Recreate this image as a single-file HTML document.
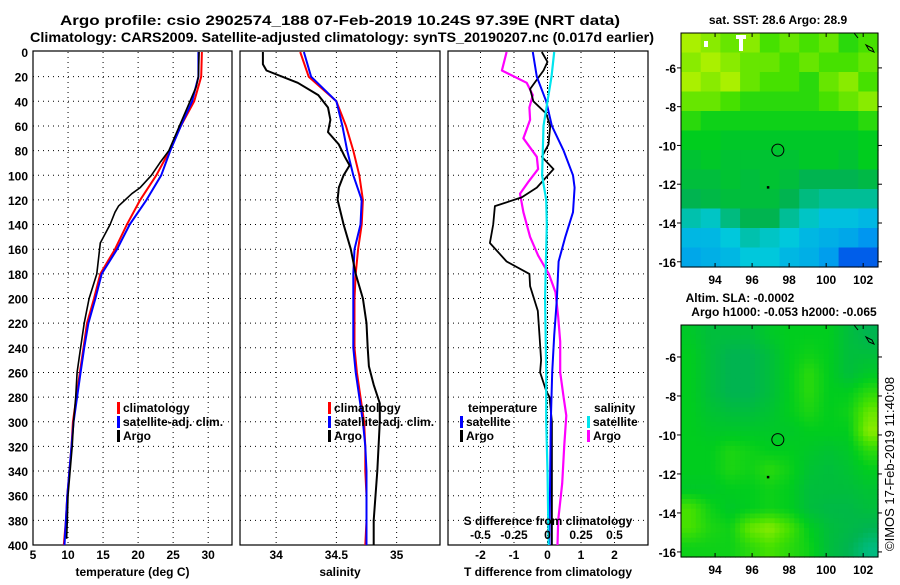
<!DOCTYPE html>
<html><head><meta charset="utf-8">
<style>
html,body{margin:0;padding:0;background:#fff;}
svg text{font-family:"Liberation Sans",sans-serif;font-weight:bold;fill:#000;}
</style></head>
<body>
<svg id="chart" xmlns="http://www.w3.org/2000/svg" width="900" height="580" viewBox="0 0 900 580">
<text x="340" y="25" font-size="14" text-anchor="middle" textLength="560" lengthAdjust="spacingAndGlyphs">Argo profile: csio 2902574_188 07-Feb-2019 10.24S 97.39E (NRT data)</text>
<text x="342" y="42" font-size="14" text-anchor="middle" textLength="624" lengthAdjust="spacingAndGlyphs">Climatology: CARS2009. Satellite-adjusted climatology: synTS_20190207.nc (0.017d earlier)</text>
<g id="g"></g>
</svg>
<script>
// ---- depth axis data ----
const depthTicks = [0,20,40,60,80,100,120,140,160,180,200,220,240,260,280,300,320,340,360,380,400];
// ---- temperature panel ----
const tempTicks = [5,10,15,20,25,30];
const tClimDepth = [0,20,40,60,80,100,120,140,160,180,200,220,240,260,280,300,320,340,360,380,400];
const tClim = [29.1,29.0,28.0,26.1,24.5,22.6,20.3,18.4,16.7,14.6,13.7,12.7,12.2,11.7,11.2,10.7,10.5,10.2,9.9,9.7,9.4];
const tSat = [28.6,28.6,27.7,26.1,24.6,23.3,21.2,18.8,17.0,14.8,13.9,12.9,12.3,11.8,11.3,10.8,10.5,10.2,9.9,9.7,9.5];
const tArgoDepth = [0,20,28,40,60,80,90,100,110,115,125,130,140,155,180,200,220,240,260,280,300,320,340,360,380,395];
const tArgo = [28.7,28.6,28.3,27.4,25.9,24.4,23.1,21.9,20.3,19.1,17.2,16.7,16.0,14.6,14.1,13.0,12.3,11.8,11.3,11.1,10.8,10.6,10.3,10.0,9.9,9.8];
// ---- salinity panel ----
const salTicks = [34,34.5,35];
const sClim = [34.20,34.27,34.50,34.58,34.64,34.69,34.72,34.71,34.68,34.66,34.65,34.65,34.65,34.67,34.70,34.73,34.74,34.74,34.75,34.75,34.74];
const sSat = [34.23,34.29,34.50,34.55,34.59,34.64,34.71,34.70,34.65,34.64,34.64,34.64,34.64,34.66,34.69,34.72,34.74,34.75,34.75,34.75,34.75];
const sArgoDepth = [0,10,15,25,35,45,55,65,75,85,92,100,110,120,140,160,180,200,220,240,255,270,285,300,340,380,400];
const sArgo = [33.89,33.89,33.92,34.18,34.35,34.43,34.45,34.43,34.52,34.57,34.61,34.56,34.52,34.51,34.56,34.62,34.66,34.72,34.75,34.76,34.77,34.81,34.86,34.86,34.84,34.81,34.81];
// ---- difference panel ----
const dtTicks = [-2,-1,0,1,2];
const dsTicks = [-0.5,-0.25,0,0.25,0.5];
const dsTickLabels = ["-0.5","-0.25","0","0.25","0.5"];
const dtSatDepth = [0,20,40,60,80,100,110,130,150,170,200,230,260,300,340,400];
const dtSat = [-0.44,-0.32,-0.04,0.13,0.48,0.76,0.81,0.76,0.53,0.33,0.28,0.2,0.14,0.1,0.08,0.06];
const dtArgoDepth = [0,8,15,30,40,50,60,75,85,95,110,118,125,140,155,170,180,190,210,230,250,260,275,280,300,400];
const dtArgo = [-0.17,0,-0.12,-0.52,-0.42,-0.04,0.08,0.03,-0.17,0.18,-0.32,-0.77,-1.57,-1.62,-1.72,-1.22,-0.54,-0.52,-0.29,-0.24,-0.19,-0.22,-0.04,0.06,0.13,0.13];
const dsArgoDepth = [0,15,25,35,45,55,70,85,95,105,115,130,150,165,180,195,215,235,260,280,295,320,350,380,400];
const dsArgo = [-0.305,-0.34,-0.155,-0.11,-0.135,-0.13,-0.18,-0.08,-0.07,-0.14,-0.205,-0.18,-0.13,-0.07,0.01,0.06,0.08,0.095,0.095,0.12,0.14,0.125,0.11,0.08,0.075];
const dsSatDepth = [0,20,40,60,80,100,120,140,160,200,260,300,340,400];
const dsSat = [0.05,0.03,0,-0.03,-0.035,-0.04,-0.01,-0.005,-0.01,-0.018,-0.01,-0.01,0,0.008];
// ---- maps ----
const lonTicks = [94,96,98,100,102];
const latTicks = [-6,-8,-10,-12,-14,-16];
const sstGrid = [
[66,64,62,64,60,62,60,62,58,60],
[64,66,64,62,62,60,62,60,60,62],
[66,64,66,62,60,60,58,62,64,60],
[62,62,60,58,58,58,58,60,62,64],
[58,56,56,56,56,56,56,56,56,58],
[55,55,54,54,54,54,54,54,54,55],
[53,54,53,53,53,53,54,54,53,55],
[52,52,53,52,53,52,50,50,50,51],
[50,51,52,52,52,50,48,47,47,47],
[46,45,48,50,50,47,45,43,43,42],
[42,42,44,46,45,44,42,41,40,38],
[40,41,42,44,44,42,41,39,33,33]];
const slaGrid = [
[54,52,52,52,54,55,55,55,52,50],
[55,52,50,50,52,55,56,55,52,52],
[55,52,50,50,52,55,58,55,52,54],
[55,52,50,50,52,55,58,55,55,58],
[55,53,52,52,53,55,57,55,56,62],
[55,54,54,54,54,54,55,55,55,64],
[55,55,57,56,55,55,54,53,54,58],
[55,55,57,56,58,56,53,52,53,55],
[54,54,55,55,56,55,52,52,52,53],
[60,56,54,55,56,55,52,51,51,52],
[60,57,56,62,64,60,55,52,51,50],
[56,56,56,58,60,58,56,52,50,48]];
const floatPos = [97.39,-10.24];
const prevPos = [96.85,-12.15];

const NS="http://www.w3.org/2000/svg";
const G=document.getElementById('g');
function mk(tag,attrs,parent){const e=document.createElementNS(NS,tag);for(const k in attrs)e.setAttribute(k,attrs[k]);(parent||G).appendChild(e);return e;}
function txt(s,x,y,size,anchor,parent){const t=mk('text',{x:x,y:y,'font-size':size,'text-anchor':anchor||'middle'},parent);t.textContent=s;return t;}

const TOP=52,BOT=545;
function yD(d){return TOP+(d/400)*(BOT-TOP);}

function panel(name,x0,x1,xmin,xmax,ticks,labels,xlabel,showY){
  const g=mk('g',{});
  
  
  const sx=v=>x0+(v-xmin)/(xmax-xmin)*(x1-x0);
  depthTicks.forEach(d=>{
    if(d===0||d===400)return;
    const l=mk('line',{x1:x0,x2:x1,y1:yD(d),y2:yD(d),stroke:'#000','stroke-width':1,'stroke-dasharray':'1,4'},g);
    
    
  });
  ticks.forEach((v,i)=>{
    const x=sx(v);
    const l=mk('line',{x1:x,x2:x,y1:TOP,y2:BOT,stroke:'#000','stroke-width':1,'stroke-dasharray':'1,4'},g);
    
    
    const t=txt(labels?labels[i]:String(v),x,559,12,'middle',g);
    
    
  });
  const r=mk('rect',{x:x0,y:TOP-1,width:x1-x0,height:BOT-TOP+1,fill:'none',stroke:'#000','stroke-width':1.2},g);
  
  
  const xl=txt(xlabel,(x0+x1)/2,576,12,'middle',g);
  
  
  if(showY){
    depthTicks.forEach(d=>{
      const t=txt(String(d),28,yD(d)+5,12,'end',g);
      
      
    });
  }
  return {g,sx};
}
function series(p,vals,depths,color,w,name,scale){
  const pts=vals.map((v,i)=>p.sx(v*(scale||1)).toFixed(1)+','+yD(depths[i]).toFixed(1)).join(' ');
  const l=mk('polyline',{points:pts,fill:'none',stroke:color,'stroke-width':w,'stroke-linejoin':'round'},p.g);
  
  
}
function legend(p,x,y,items){
  items.forEach((it,i)=>{
    if(it.c){
      const b=mk('rect',{x:x,y:y+i*14-10,width:3,height:12,fill:it.c},p.g);
      
      
    }
    const t=txt(it.t,x+(it.c?6:0),y+i*14,12,'start',p.g);
    
    
  });
}

const p1=panel('temperature-panel',33,232,5,33.4,tempTicks,null,'temperature (deg C)',true);
series(p1,tClim,tClimDepth,'#ff0000',2,'temp-climatology-line');
series(p1,tSat,tClimDepth,'#0000ff',2,'temp-satellite-adj-line');
series(p1,tArgo,tArgoDepth,'#000000',1.6,'temp-argo-line');
legend(p1,117,412,[{t:'climatology',c:'#f00'},{t:'satellite-adj. clim.',c:'#00f'},{t:'Argo',c:'#000'}]);

const p2=panel('salinity-panel',240,440,33.70,35.36,salTicks,null,'salinity',false);
series(p2,sClim,tClimDepth,'#ff0000',2,'sal-climatology-line');
series(p2,sSat,tClimDepth,'#0000ff',2,'sal-satellite-adj-line');
series(p2,sArgo,sArgoDepth,'#000000',2,'sal-argo-line');
legend(p2,328,412,[{t:'climatology',c:'#f00'},{t:'satellite-adj. clim.',c:'#00f'},{t:'Argo',c:'#000'}]);

const p3=panel('difference-panel',448,648,-2.97,3.0,dtTicks,null,'T difference from climatology',false);
const zx=p3.sx(0);
const zl=mk('line',{x1:zx,x2:zx,y1:TOP,y2:BOT,stroke:'#000','stroke-width':1,'stroke-dasharray':'1,2'},p3.g);


series(p3,dsArgo,dsArgoDepth,'#ff00ff',2.2,'sal-diff-argo-line',4);
series(p3,dtArgo,dtArgoDepth,'#000000',1.8,'temp-diff-argo-line');
series(p3,dtSat,dtSatDepth,'#0000ff',2,'temp-diff-satellite-line');
series(p3,dsSat,dsSatDepth,'#00e5ee',2.2,'sal-diff-satellite-line',4);
legend(p3,468,412,[{t:'temperature'}]);
legend(p3,460,426,[{t:'satellite',c:'#00f'},{t:'Argo',c:'#000'}]);
legend(p3,594,412,[{t:'salinity'}]);
legend(p3,587,426,[{t:'satellite',c:'#00e5ee'},{t:'Argo',c:'#f0f'}]);
const st=txt('S difference from climatology',548,525,12,'middle',p3.g);


dsTicks.forEach((v,i)=>{
  const t=txt(dsTickLabels[i],p3.sx(v*4),539,12,'middle',p3.g);
  
  
});

function col(v){
  const stops=[[30,[0,60,230]],[38,[0,150,240]],[44,[0,200,220]],[50,[0,180,80]],[55,[0,205,30]],[60,[70,225,0]],[66,[170,240,0]]];
  if(v<=stops[0][0])return 'rgb('+stops[0][1]+')';
  for(let i=1;i<stops.length;i++){
    if(v<=stops[i][0]){const a=stops[i-1],b=stops[i],f=(v-a[0])/(b[0]-a[0]);
      return 'rgb('+a[1].map((c,j)=>Math.round(c+f*(b[1][j]-c))).join(',')+')';}
  }
  return 'rgb(170,240,0)';
}
function sample(grid,r,c){
  const rows=grid.length,cols=grid[0].length;
  r=Math.max(0,Math.min(rows-1,r));c=Math.max(0,Math.min(cols-1,c));
  const r0=Math.floor(r),c0=Math.floor(c),r1=Math.min(rows-1,r0+1),c1=Math.min(cols-1,c0+1);
  const fr=r-r0,fc=c-c0;
  return grid[r0][c0]*(1-fr)*(1-fc)+grid[r0][c1]*(1-fr)*fc+grid[r1][c0]*fr*(1-fc)+grid[r1][c1]*fr*fc;
}
function map(name,y0,y1,latTop,latBot,grid,titles,sub){
  const x0=681,x1=878,lonL=92.16,lonR=102.8;
  const g=mk('g',{});
  
  
  const sx=lon=>x0+(lon-lonL)/(lonR-lonL)*(x1-x0);
  const sy=lat=>y0+(latTop-lat)/(latTop-latBot)*(y1-y0);
  const rows=grid.length*sub,cols=grid[0].length*sub,cw=(x1-x0)/cols,ch=(y1-y0)/rows;
  for(let r=0;r<rows;r++)for(let c=0;c<cols;c++){
    const v=sub>1?sample(grid,(r+0.5)/sub-0.5,(c+0.5)/sub-0.5):grid[r][c];
    const e=mk('rect',{x:(x0+c*cw).toFixed(1),y:(y0+r*ch).toFixed(1),width:(cw+0.6).toFixed(1),height:(ch+0.6).toFixed(1),fill:col(v)},g);
    
    
  }
  const fr=mk('rect',{x:x0,y:y0,width:x1-x0,height:y1-y0,fill:'none',stroke:'#000','stroke-width':1},g);
  
  
  lonTicks.forEach(l=>{
    const x=sx(l);
    mk('line',{x1:x,x2:x,y1:y1,y2:y1-4,stroke:'#000'},g);
    mk('line',{x1:x,x2:x,y1:y0,y2:y0+4,stroke:'#000'},g);
    const t=txt(String(l),x,y1+17,12,'middle',g);
    
    
  });
  latTicks.forEach(l=>{
    const y=sy(l);
    mk('line',{x1:x0,x2:x0-4,y1:y,y2:y,stroke:'#000'},g);
    mk('line',{x1:x1,x2:x1+4,y1:y,y2:y,stroke:'#000'},g);
    const t=txt(String(l),676,y+5,12,'end',g);
    
    
  });
  const c=mk('circle',{cx:sx(floatPos[0]),cy:sy(floatPos[1]),r:6,fill:'none',stroke:'#000','stroke-width':1},g);
  
  
  const d=mk('rect',{x:sx(prevPos[0])-1,y:sy(prevPos[1])-1,width:2.5,height:2.5,fill:'#000'},g);
  
  
  const cs=mk('path',{d:'M'+(x1-12)+','+(y0+12)+' l6,3 l2,4 l-5,-2 z M'+(x1-24)+','+y0+' l4,5',fill:'none',stroke:'#000','stroke-width':1},g);
  
  
  titles.forEach(tt=>{
    const t=txt(tt[0],tt[1],tt[2],12,'middle',g);
    
    
  });
}
map('sst-map',33,267,-4.2,-16.27,sstGrid,[['sat. SST: 28.6 Argo: 28.9',778,24]],1);
[[704,41,4,6],[736,35,10,4],[739,35,4,16]].forEach(a=>{
  const w=mk('rect',{x:a[0],y:a[1],width:a[2],height:a[3],fill:'#fff'});
  
  
});
map('sla-map',325,557,-4.36,-16.26,slaGrid,[['Altim. SLA: -0.0002',740,302],['Argo h1000: -0.053 h2000: -0.065',784,316]],4);

const cp=mk('text',{x:0,y:0,'font-size':13,'text-anchor':'start',transform:'translate(894,551) rotate(-90)'});
cp.textContent='©IMOS 17-Feb-2019 11:40:08';


cp.style.fontWeight='normal';
</script>
</body></html>
